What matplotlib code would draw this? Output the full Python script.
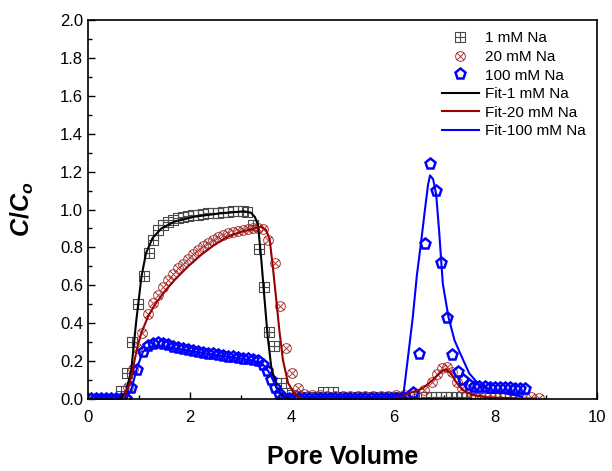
import numpy as np
import matplotlib
matplotlib.use("Agg")
import matplotlib.pyplot as plt
from matplotlib.path import Path
from matplotlib.ticker import MultipleLocator, FormatStrFormatter

plt.rcParams.update({
    "font.family": ["Liberation Sans", "DejaVu Sans"],
    "mathtext.fontset": "custom",
    "mathtext.it": "Liberation Sans:italic:bold",
    "mathtext.rm": "Liberation Sans:bold",
    "mathtext.bf": "Liberation Sans:bold",
})

GREY = "#4a4a4a"
DARKRED = "#990000"
MRED = "#a83a3a"
BLUE = "#0000ff"

na1_x = [0.05, 0.15, 0.25, 0.35, 0.45, 0.55, 0.65, 0.76, 0.87, 0.99, 1.10, 1.19,
         1.28, 1.37, 1.47, 1.57, 1.67, 1.76, 1.86, 1.96, 2.06, 2.16, 2.25, 2.35,
         2.45, 2.55, 2.65, 2.75, 2.84, 2.94, 3.04, 3.12, 3.24, 3.35, 3.45, 3.56,
         3.66, 3.80, 3.90, 4.00, 4.10, 4.20, 4.30, 4.40, 4.50, 4.61, 4.81, 5.00,
         5.20, 5.40, 5.60, 5.80, 6.00, 6.20, 6.40, 6.64, 6.74, 6.84, 6.94, 7.04,
         7.14, 7.24, 7.34, 7.43, 7.60, 7.80, 8.00, 8.20, 8.40]
na1_y = [0.0, 0.0, 0.0, 0.0, 0.0, 0.0, 0.044, 0.135, 0.30, 0.50, 0.65, 0.77,
         0.84, 0.89, 0.92, 0.935, 0.945, 0.955, 0.96, 0.965, 0.97, 0.973, 0.976, 0.98,
         0.982, 0.984, 0.986, 0.988, 0.99, 0.99, 0.99, 0.985, 0.92, 0.79, 0.59, 0.355,
         0.28, 0.085, 0.03, 0.02, 0.015, 0.012, 0.01, 0.01, 0.01, 0.035, 0.035, 0.01,
         0.01, 0.01, 0.008, 0.008, 0.008, 0.008, 0.01, 0.012, 0.012, 0.012, 0.012, 0.012,
         0.012, 0.012, 0.012, 0.012, 0.005, 0.005, 0.005, 0.005, 0.005]

na20_x = [0.05, 0.15, 0.25, 0.35, 0.45, 0.55, 0.65, 0.78, 0.88, 0.97, 1.07, 1.18,
          1.27, 1.37, 1.47, 1.57, 1.67, 1.76, 1.86, 1.96, 2.06, 2.16, 2.25, 2.35,
          2.45, 2.55, 2.65, 2.75, 2.84, 2.94, 3.04, 3.14, 3.24, 3.33, 3.43, 3.54,
          3.67, 3.77, 3.89, 4.01, 4.12, 4.25, 4.40, 4.55, 4.70, 4.85, 5.00, 5.15,
          5.30, 5.45, 5.60, 5.75, 5.90, 6.05, 6.20, 6.40, 6.60, 6.75, 6.85, 6.95,
          7.05, 7.15, 7.25, 7.35, 7.50, 7.70, 7.90, 8.10, 8.30, 8.50, 8.70, 8.87]
na20_y = [0.0, 0.0, 0.0, 0.0, 0.0, 0.0, 0.0, 0.065, 0.16, 0.27, 0.35, 0.45,
          0.505, 0.55, 0.59, 0.63, 0.66, 0.69, 0.715, 0.74, 0.765, 0.785, 0.807, 0.825,
          0.84, 0.853, 0.864, 0.874, 0.883, 0.888, 0.89, 0.895, 0.90, 0.90, 0.895, 0.84,
          0.72, 0.49, 0.27, 0.135, 0.056, 0.025, 0.02, 0.02, 0.018, 0.018, 0.015, 0.015,
          0.015, 0.015, 0.015, 0.015, 0.015, 0.02, 0.02, 0.03, 0.05, 0.09, 0.13, 0.165,
          0.17, 0.14, 0.09, 0.06, 0.04, 0.03, 0.025, 0.02, 0.015, 0.01, 0.008, 0.005]

na100_x = [0.05, 0.15, 0.25, 0.35, 0.45, 0.55, 0.65, 0.75, 0.85, 0.97, 1.08, 1.18,
           1.27, 1.37, 1.47, 1.57, 1.67, 1.76, 1.86, 1.96, 2.06, 2.16, 2.25, 2.35,
           2.45, 2.55, 2.65, 2.75, 2.84, 2.94, 3.04, 3.14, 3.24, 3.34, 3.44, 3.52,
           3.60, 3.68, 3.76, 3.84, 3.95, 4.05, 4.15, 4.25, 4.35, 4.45, 4.55, 4.65,
           4.75, 4.85, 4.95, 5.05, 5.15, 5.25, 5.35, 5.45, 5.55, 5.65, 5.75, 5.85,
           5.95, 6.05, 6.15, 6.25, 6.38, 6.51, 6.62, 6.72, 6.84, 6.94, 7.05, 7.16,
           7.26, 7.37, 7.48, 7.59, 7.69, 7.79, 7.89, 7.99, 8.09, 8.19, 8.29, 8.39,
           8.49, 8.59]
na100_y = [0.0, 0.0, 0.0, 0.0, 0.0, 0.0, 0.0, 0.0, 0.056, 0.153, 0.25, 0.28,
           0.29, 0.294, 0.289, 0.283, 0.276, 0.271, 0.266, 0.259, 0.254, 0.248, 0.243, 0.24,
           0.236, 0.231, 0.227, 0.224, 0.22, 0.217, 0.213, 0.21, 0.206, 0.20, 0.18, 0.15,
           0.10, 0.06, 0.025, 0.005, 0.0, 0.0, 0.0, 0.0, 0.0, 0.0, 0.0, 0.0,
           0.0, 0.0, 0.0, 0.0, 0.0, 0.0, 0.0, 0.0, 0.0, 0.0, 0.0, 0.0,
           0.0, 0.0, 0.0, 0.0, 0.03, 0.237, 0.818, 1.24, 1.10, 0.72, 0.426, 0.232,
           0.144, 0.10, 0.074, 0.065, 0.063, 0.062, 0.060, 0.059, 0.058, 0.057, 0.056, 0.055,
           0.054, 0.053]

# ---- fitted curves ----
fit1_x = [0.0, 0.62, 0.75, 0.85, 0.95, 1.05, 1.14, 1.27, 1.44, 1.70, 2.09, 2.61,
          3.07, 3.20, 3.28, 3.34, 3.40, 3.47, 3.53, 3.60, 3.70, 3.83, 3.96, 6.0,
          7.0, 8.8]
fit1_y = [0.0, 0.0, 0.04, 0.153, 0.417, 0.645, 0.77, 0.85, 0.90, 0.936, 0.962, 0.98,
          0.99, 0.983, 0.96, 0.918, 0.75, 0.52, 0.33, 0.17, 0.065, 0.012, 0.0, 0.0,
          0.0, 0.0]

fit20_x = [0.0, 0.69, 0.82, 0.92, 0.98, 1.05, 1.18, 1.31, 1.50, 1.70, 1.96, 2.22,
           2.48, 2.75, 3.01, 3.27, 3.40, 3.50, 3.57, 3.63, 3.70, 3.76, 3.83, 3.93,
           4.06, 4.22, 6.0, 6.31, 6.57, 6.77, 6.94, 7.03, 7.13, 7.23, 7.36, 7.56,
           7.88, 8.5, 8.8]
fit20_y = [0.0, 0.0, 0.083, 0.21, 0.285, 0.35, 0.435, 0.496, 0.566, 0.628, 0.698, 0.76,
           0.813, 0.857, 0.883, 0.90, 0.909, 0.892, 0.84, 0.70, 0.52, 0.36, 0.205, 0.085,
           0.024, 0.0, 0.0, 0.03, 0.055, 0.10, 0.144, 0.157, 0.135, 0.09, 0.047, 0.021,
           0.008, 0.003, 0.002]

fit100_x = [0.0, 0.75, 0.85, 0.97, 1.08, 1.20, 1.35, 1.60, 2.00, 2.40, 2.80, 3.20,
            3.40, 3.50, 3.60, 3.70, 3.80, 3.90, 6.10, 6.20, 6.30, 6.38, 6.46, 6.54,
            6.62, 6.68, 6.72, 6.78, 6.84, 6.90, 6.97, 7.08, 7.20, 7.33, 7.49, 7.69,
            8.01, 8.53]
fit100_y = [0.0, 0.0, 0.05, 0.17, 0.25, 0.275, 0.28, 0.272, 0.255, 0.237, 0.222, 0.205,
            0.19, 0.165, 0.12, 0.06, 0.015, 0.0, 0.0, 0.03, 0.25, 0.43, 0.65, 0.82,
            1.0, 1.13, 1.18, 1.16, 1.08, 0.88, 0.61, 0.434, 0.31, 0.23, 0.135, 0.074,
            0.039, 0.013]


def boxed_plus():
    sq = Path([(-1, -1), (1, -1), (1, 1), (-1, 1), (-1, -1)],
              [Path.MOVETO, Path.LINETO, Path.LINETO, Path.LINETO, Path.CLOSEPOLY])
    h = Path([(-1, 0), (1, 0)], [Path.MOVETO, Path.LINETO])
    v = Path([(0, -1), (0, 1)], [Path.MOVETO, Path.LINETO])
    return Path.make_compound_path(sq, h, v)


def circled_x():
    c = Path.unit_circle()
    d = 0.707
    a = Path([(-d, -d), (d, d)], [Path.MOVETO, Path.LINETO])
    b = Path([(-d, d), (d, -d)], [Path.MOVETO, Path.LINETO])
    return Path.make_compound_path(c, a, b)


fig = plt.figure(figsize=(6.12, 4.71), dpi=100)
ax = fig.add_axes([0.1438, 0.1529, 0.8317, 0.8046])

ax.plot(na1_x, na1_y, ls="none", marker=boxed_plus(), ms=6.5, mfc="none",
        mec=GREY, mew=0.8, label="1 mM Na")
ax.plot(na20_x, na20_y, ls="none", marker=circled_x(), ms=7, mfc="none",
        mec=MRED, mew=0.7, label="20 mM Na")
ax.plot(na100_x, na100_y, ls="none", marker="p", ms=8, mfc="none",
        mec=BLUE, mew=1.8, label="100 mM Na")
ax.plot(fit1_x, fit1_y, color="black", lw=1.5, label="Fit-1 mM Na")
ax.plot(fit20_x, fit20_y, color=DARKRED, lw=1.5, label="Fit-20 mM Na")
ax.plot(fit100_x, fit100_y, color=BLUE, lw=1.5, label="Fit-100 mM Na")

ax.set_xlim(0, 10)
ax.set_ylim(0, 2.0)
ax.xaxis.set_major_locator(MultipleLocator(2))
ax.xaxis.set_minor_locator(MultipleLocator(1))
ax.yaxis.set_major_locator(MultipleLocator(0.2))
ax.yaxis.set_minor_locator(MultipleLocator(0.1))
ax.yaxis.set_major_formatter(FormatStrFormatter("%.1f"))
ax.tick_params(which="both", direction="in", labelsize=12, width=1)
ax.tick_params(which="major", length=5)
ax.tick_params(which="minor", length=3)
ax.tick_params(axis="x", which="major", pad=8)
for s in ax.spines.values():
    s.set_linewidth(1.2)

ax.set_xlabel("Pore Volume", fontsize=18, fontweight="bold", labelpad=14)
ax.set_ylabel(r"$C/C_o$", fontsize=18, labelpad=17)

ax.legend(loc="upper right", frameon=False, fontsize=11, handlelength=2.4,
          handletextpad=0.4, labelspacing=0.3, borderaxespad=0.35)

fig.savefig("out.png", dpi=100)
